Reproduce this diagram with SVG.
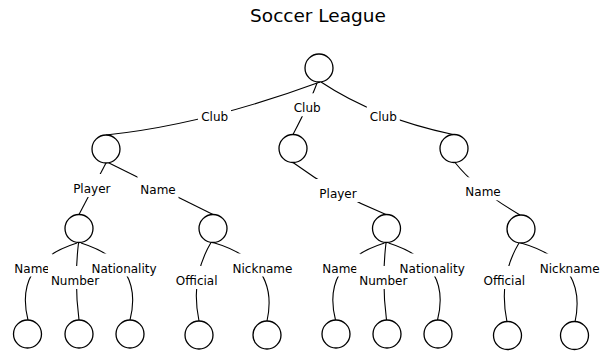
<svg xmlns="http://www.w3.org/2000/svg" width="610" height="352" viewBox="0 0 610 352">
  <style>
    .node { fill: #ffffff; stroke: #000000; stroke-width: 1.3; }
    .edge { fill: none; stroke: #000000; stroke-width: 1.1; }
    .lbl { font-family: "DejaVu Sans", "Liberation Sans", sans-serif; font-size: 12px; fill: #000000; text-anchor: middle; }
    .bg { fill: #ffffff; stroke: none; }
    .title { font-family: "DejaVu Sans", "Liberation Sans", sans-serif; font-size: 18.5px; fill: #000000; text-anchor: middle; }
  </style>
  <rect x="0" y="0" width="610" height="352" fill="#ffffff"/>
  <text class="title" x="318" y="22">Soccer League</text>

  <g id="connectors">
    <path class="edge" d="M320,82 Q203,125 106,135"/>
    <path class="edge" d="M317,83 Q311,100 293,134.5"/>
    <path class="edge" d="M321,82 Q375,118 453,134.5"/>
    <path class="edge" d="M106,163 L79,214.5"/>
    <path class="edge" d="M107,162 L213,214.5"/>
    <path class="edge" d="M293,162.5 Q337,195 386,214.5"/>
    <path class="edge" d="M455,162.5 Q477,190 520,215"/>
    <path class="edge" d="M77,243 Q13.6,263 28,320"/>
    <path class="edge" d="M78.5,243 Q74,281 79,320"/>
    <path class="edge" d="M81,243 Q144.5,263 130,320"/>
    <path class="edge" d="M211,242.5 Q190,278 199,321"/>
    <path class="edge" d="M213,242.5 Q280,262 267,321"/>
    <path class="edge" d="M384.5,243 Q321,263 335.5,320"/>
    <path class="edge" d="M386,243 Q381.5,281 386.5,320"/>
    <path class="edge" d="M388.5,243 Q452,263 437.5,320"/>
    <path class="edge" d="M519,243 Q498,278 507,322"/>
    <path class="edge" d="M521,243 Q588,262 575,322"/>
  </g>

  <g id="edge-labels">
    <g><rect class="bg" x="198" y="101.7" width="33" height="23"/><text class="lbl" x="214.7" y="120.7">Club</text></g>
    <g><rect class="bg" x="290.5" y="93.3" width="33" height="23"/><text class="lbl" x="307.2" y="112.3">Club</text></g>
    <g><rect class="bg" x="366.8" y="101.7" width="33" height="23"/><text class="lbl" x="383.3" y="120.7">Club</text></g>
    <g><rect class="bg" x="70" y="174" width="44" height="23"/><text class="lbl" x="91.8" y="193">Player</text></g>
    <g><rect class="bg" x="137.5" y="175" width="41" height="23"/><text class="lbl" x="158" y="194">Name</text></g>
    <g><rect class="bg" x="316" y="179" width="44" height="23"/><text class="lbl" x="338" y="198">Player</text></g>
    <g><rect class="bg" x="462.5" y="177.3" width="41" height="23"/><text class="lbl" x="483" y="196.3">Name</text></g>
    <g><rect class="bg" x="11.5" y="253.5" width="41" height="23"/><text class="lbl" x="32" y="272.5">Name</text></g>
    <g><rect class="bg" x="48" y="266" width="54" height="23"/><text class="lbl" x="75" y="285">Number</text></g>
    <g><rect class="bg" x="88.5" y="253.5" width="71" height="23"/><text class="lbl" x="124" y="272.5">Nationality</text></g>
    <g><rect class="bg" x="172.7" y="266" width="48" height="23"/><text class="lbl" x="196.7" y="285">Official</text></g>
    <g><rect class="bg" x="229.5" y="253.5" width="66" height="23"/><text class="lbl" x="262.5" y="272.5">Nickname</text></g>
    <g><rect class="bg" x="319.5" y="253.5" width="41" height="23"/><text class="lbl" x="340" y="272.5">Name</text></g>
    <g><rect class="bg" x="356.3" y="266" width="54" height="23"/><text class="lbl" x="383.3" y="285">Number</text></g>
    <g><rect class="bg" x="396.7" y="253.5" width="71" height="23"/><text class="lbl" x="432.2" y="272.5">Nationality</text></g>
    <g><rect class="bg" x="480.3" y="266" width="48" height="23"/><text class="lbl" x="504.3" y="285">Official</text></g>
    <g><rect class="bg" x="536.7" y="253.5" width="66" height="23"/><text class="lbl" x="569.7" y="272.5">Nickname</text></g>
  </g>

  <g id="root"><circle class="node" cx="319" cy="68" r="14"/></g>
  <g id="club1"><circle class="node" cx="106" cy="149" r="14"/></g>
  <g id="club2"><circle class="node" cx="293" cy="148.5" r="14"/></g>
  <g id="club3"><circle class="node" cx="454" cy="148.5" r="14"/></g>
  <g id="club1-player"><circle class="node" cx="79" cy="228.5" r="14"/></g>
  <g id="club1-name"><circle class="node" cx="213" cy="228.5" r="14"/></g>
  <g id="club2-player"><circle class="node" cx="386.5" cy="228.5" r="14"/></g>
  <g id="club3-name"><circle class="node" cx="521" cy="229" r="14"/></g>
  <g id="club1-player-name"><circle class="node" cx="27.5" cy="334" r="14"/></g>
  <g id="club1-player-number"><circle class="node" cx="79" cy="334" r="14"/></g>
  <g id="club1-player-nationality"><circle class="node" cx="130" cy="334" r="14"/></g>
  <g id="club1-name-official"><circle class="node" cx="199" cy="335" r="14"/></g>
  <g id="club1-name-nickname"><circle class="node" cx="267" cy="335" r="14"/></g>
  <g id="club2-player-name"><circle class="node" cx="336" cy="334" r="14"/></g>
  <g id="club2-player-number"><circle class="node" cx="387" cy="334" r="14"/></g>
  <g id="club2-player-nationality"><circle class="node" cx="438" cy="334" r="14"/></g>
  <g id="club3-name-official"><circle class="node" cx="507.5" cy="335.5" r="14"/></g>
  <g id="club3-name-nickname"><circle class="node" cx="574.5" cy="335.5" r="14"/></g>
</svg>
